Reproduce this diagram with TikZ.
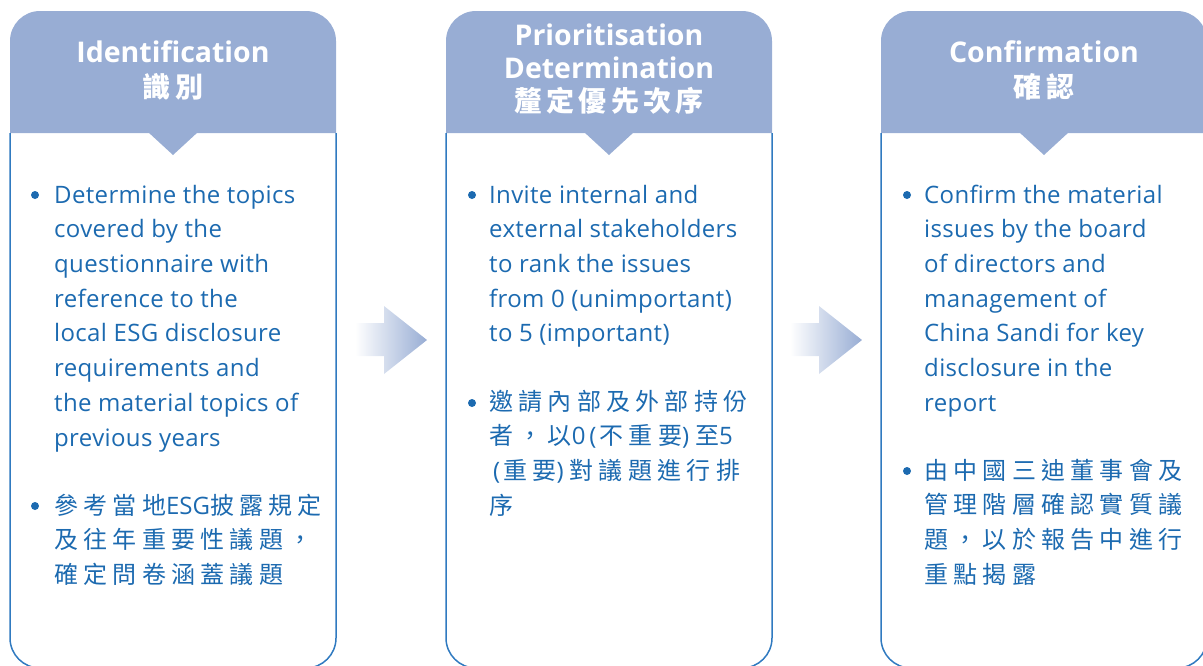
\documentclass[tikz,border=0pt]{standalone}
\usepackage{fontspec}
\setmainfont{Open Sans}
\newfontfamily\bodyfont[LetterSpace=1.5]{Open Sans}
\newfontfamily\cjkbody[LetterSpace=22]{Noto Sans CJK TC}
\newfontfamily\cjkhead[LetterSpace=15]{Noto Sans CJK TC}
\newfontfamily\latinb{Open Sans}
\definecolor{hdr}{RGB}{152,173,212}
\definecolor{txt}{RGB}{28,106,176}
\definecolor{bdr}{RGB}{48,122,192}
\tikzset{
  body/.style={anchor=north west, inner sep=0pt, align=left, text=txt, font=\fontsize{24}{34.7}\selectfont\bodyfont},
  cjkpara/.style={anchor=north west, inner sep=0pt, align=left, text=txt, font=\fontsize{24}{34.7}\selectfont\cjkbody},
  head/.style={anchor=north, inner sep=0pt, align=center, text=white, font=\fontsize{28.5}{33}\selectfont\bfseries},
  bul/.style={circle, fill=txt, inner sep=0pt, minimum size=8pt},
  hdrfill/.style={fill=hdr},
  frame/.style={draw=bdr, line width=1.5pt},
  flowarrow/.style={left color=white, right color=hdr}
}
\newcommand{\hcjk}[1]{{\cjkhead\fontsize{28}{33}\selectfont #1}}
\newcommand{\lpar}{\kern4pt{\latinb (}\kern3pt}
\newcommand{\rpar}{{\latinb )}\kern6pt}
\begin{document}
\begin{tikzpicture}[x=1pt,y=-1pt]
\useasboundingbox (0,0) rectangle (1203,665);
\clip (0,0) rectangle (1203,665);
% panels
\foreach \px/\nm in {10/A,446/B,881/C}{
  \fill[hdrfill] (\px,133) [rounded corners=30pt] -- (\px,11) -- (\px+326,11) [sharp corners] -- (\px+326,133) -- cycle;
  \fill[hdrfill] (\px+138,132) -- (\px+188,132) -- (\px+163,155) -- cycle;
  \draw[frame] (\px,133) [rounded corners=30pt] -- (\px,668) -- (\px+326,668) [sharp corners] -- (\px+326,133);
}
% arrows
\shade[flowarrow] (355,323) -- (384,323) -- (384,306) -- (427,340) -- (384,374) -- (384,356) -- (355,356) -- cycle;
\shade[flowarrow] (790,323) -- (819,323) -- (819,306) -- (862,340) -- (819,374) -- (819,356) -- (790,356) -- cycle;
% headers
\node[head] (hA) at (173,38.9) {\strut Identification\\ \hcjk{識別}};
\node[head] (hB) at (609,21.9) {\strut Prioritisation\\ Determination\\ \hcjk{釐定優先次序}};
\node[head] (hC) at (1044,38.9) {\strut Confirmation\\ \hcjk{確認}};
% left body
\node[bul] (bA1) at (35,195) {};
\node[body] (tA1) at (54,178.7) {\strut Determine the topics\\ covered by the\\ questionnaire with\\ reference to the\\ local ESG disclosure\\ requirements and\\ the material topics of\\ previous years};
\node[bul] (bA2) at (35,506) {};
\node[cjkpara] (tA2) at (54,489.7) {\strut 參考當地{\latinb ESG}披露規定\\ 及往年重要性議題，\\ 確定問卷涵蓋議題};
% middle body
\node[bul] (bB1) at (472,195) {};
\node[body] (tB1) at (489,178.7) {\strut Invite internal and\\ external stakeholders\\ to rank the issues\\ from 0 (unimportant)\\ to 5 (important)};
\node[bul] (bB2) at (472,403) {};
\node[cjkpara] (tB2) at (489,385.7) {\strut 邀請內部及外部持份\\ 者，以{\latinb 0}\lpar 不重要\rpar 至{\latinb 5}\\ \lpar 重要\rpar 對議題進行排\\ 序};
% right body
\node[bul] (bC1) at (907,195) {};
\node[body] (tC1) at (924,178.7) {\strut Confirm the material\\ issues by the board\\ of directors and\\ management of\\ China Sandi for key\\ disclosure in the\\ report};
\node[bul] (bC2) at (907,471) {};
\node[cjkpara] (tC2) at (924,454.7) {\strut 由中國三迪董事會及\\ 管理階層確認實質議\\ 題，以於報告中進行\\ 重點揭露};
\end{tikzpicture}
\end{document}
